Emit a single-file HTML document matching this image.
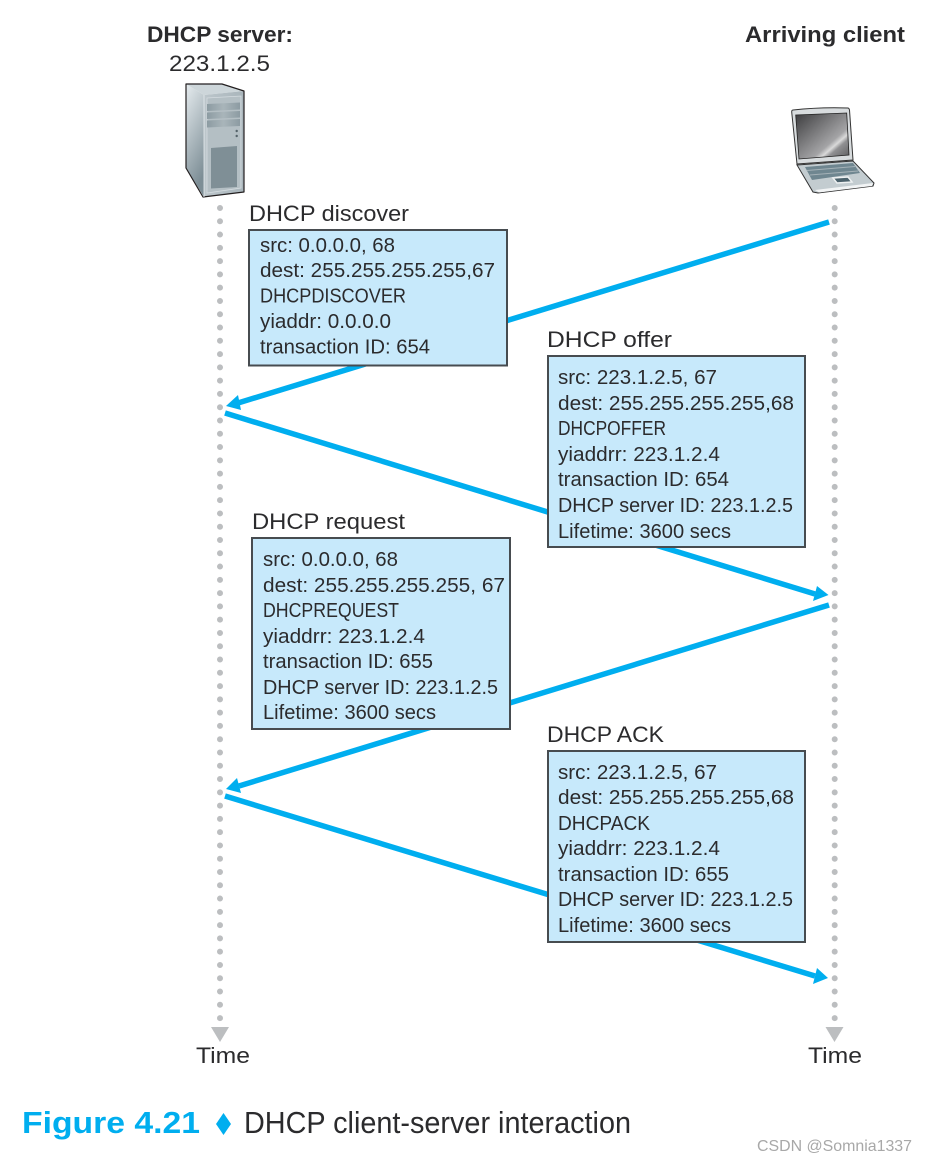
<!DOCTYPE html>
<html>
<head>
<meta charset="utf-8">
<style>
html,body{margin:0;padding:0;background:#fff;width:925px;height:1161px;overflow:hidden}
svg{display:block}
text{font-family:"Liberation Sans",sans-serif;fill:#2b2b2d;font-size:20px}
.h{font-size:22.5px}
.b{font-weight:bold;font-size:22.5px}
</style>
</head>
<body>
<svg width="925" height="1161" viewBox="0 0 925 1161" xmlns="http://www.w3.org/2000/svg">
<defs>
<linearGradient id="sf" x1="0" y1="0" x2="0.3" y2="1"><stop offset="0" stop-color="#e6ecef"/><stop offset="1" stop-color="#7d8e96"/></linearGradient>
<linearGradient id="sb" x1="0" y1="0" x2="1" y2="0"><stop offset="0" stop-color="#bcc6cb"/><stop offset="1" stop-color="#a9b5bb"/></linearGradient>
<linearGradient id="bay" x1="0" y1="0" x2="1" y2="0"><stop offset="0" stop-color="#8c9ba2"/><stop offset=".5" stop-color="#a9b5ba"/><stop offset="1" stop-color="#8c9ba2"/></linearGradient>
<linearGradient id="scr" x1="0" y1="0" x2="1" y2="1"><stop offset="0" stop-color="#3c3c3e"/><stop offset=".65" stop-color="#a4a4a6"/><stop offset=".72" stop-color="#dadada"/><stop offset=".78" stop-color="#909092"/><stop offset="1" stop-color="#5a5a5c"/></linearGradient>
<linearGradient id="lb" x1="0" y1="0" x2="0" y2="1"><stop offset="0" stop-color="#8d9ca3"/><stop offset="1" stop-color="#d6dcdf"/></linearGradient>
</defs>

<!-- lifelines -->
<g stroke="#bcbec0" stroke-width="6" stroke-linecap="round" stroke-dasharray="0 13.28" fill="none">
<line x1="220" y1="208" x2="220" y2="1022"/>
<line x1="834.700" y1="208" x2="834.700" y2="1022"/>
</g>
<polygon points="211,1027 229,1027 220,1042" fill="#bcbec0"/>
<polygon points="825.500,1027 843.500,1027 834.500,1042" fill="#bcbec0"/>

<!-- arrows -->
<g stroke="#00aeef" stroke-width="5.500" fill="none">
<line x1="829" y1="222" x2="238" y2="403"/>
<line x1="225" y1="413" x2="815" y2="594"/>
<line x1="829" y1="605" x2="239" y2="786"/>
<line x1="225" y1="796" x2="815" y2="976"/>
</g>
<g fill="#00aeef">
<polygon points="226,406 238,395 241,410"/>
<polygon points="828.500,595 817,586 813,601"/>
<polygon points="226,789 237,778 241,793"/>
<polygon points="828,978 817,968 813,984"/>
</g>

<!-- boxes -->
<g fill="#c7e9fb" stroke="#474c50" stroke-width="2">
<rect x="249" y="230" width="258" height="135.500"/>
<rect x="548" y="356" width="257" height="191"/>
<rect x="252" y="538" width="258" height="191"/>
<rect x="548" y="751" width="257" height="191"/>
</g>

<!-- headers -->
<text class="b" x="147" y="42" textLength="146" lengthAdjust="spacingAndGlyphs">DHCP server:</text>
<text class="h" x="169" y="71" textLength="101" lengthAdjust="spacingAndGlyphs">223.1.2.5</text>
<text class="b" x="745" y="42" textLength="160" lengthAdjust="spacingAndGlyphs">Arriving client</text>

<!-- box 1 -->
<text class="h" x="249" y="221" textLength="160" lengthAdjust="spacingAndGlyphs">DHCP discover</text>
<text x="260" y="252" textLength="135" lengthAdjust="spacingAndGlyphs">src: 0.0.0.0, 68</text>
<text x="260" y="277" textLength="235" lengthAdjust="spacingAndGlyphs">dest: 255.255.255.255,67</text>
<text x="260" y="302.500" textLength="146" lengthAdjust="spacingAndGlyphs">DHCPDISCOVER</text>
<text x="260" y="328" textLength="131" lengthAdjust="spacingAndGlyphs">yiaddr: 0.0.0.0</text>
<text x="260" y="353.500" textLength="170" lengthAdjust="spacingAndGlyphs">transaction ID: 654</text>

<!-- box 2 -->
<text class="h" x="547" y="347" textLength="125" lengthAdjust="spacingAndGlyphs">DHCP offer</text>
<text x="558" y="384" textLength="159" lengthAdjust="spacingAndGlyphs">src: 223.1.2.5, 67</text>
<text x="558" y="410" textLength="236" lengthAdjust="spacingAndGlyphs">dest: 255.255.255.255,68</text>
<text x="558" y="435" textLength="108" lengthAdjust="spacingAndGlyphs">DHCPOFFER</text>
<text x="558" y="461" textLength="162" lengthAdjust="spacingAndGlyphs">yiaddrr: 223.1.2.4</text>
<text x="558" y="486" textLength="171" lengthAdjust="spacingAndGlyphs">transaction ID: 654</text>
<text x="558" y="512" textLength="235" lengthAdjust="spacingAndGlyphs">DHCP server ID: 223.1.2.5</text>
<text x="558" y="538" textLength="173" lengthAdjust="spacingAndGlyphs">Lifetime: 3600 secs</text>

<!-- box 3 -->
<text class="h" x="252" y="529" textLength="153" lengthAdjust="spacingAndGlyphs">DHCP request</text>
<text x="263" y="566" textLength="135" lengthAdjust="spacingAndGlyphs">src: 0.0.0.0, 68</text>
<text x="263" y="592" textLength="242" lengthAdjust="spacingAndGlyphs">dest: 255.255.255.255, 67</text>
<text x="263" y="617" textLength="136" lengthAdjust="spacingAndGlyphs">DHCPREQUEST</text>
<text x="263" y="643" textLength="162" lengthAdjust="spacingAndGlyphs">yiaddrr: 223.1.2.4</text>
<text x="263" y="668" textLength="170" lengthAdjust="spacingAndGlyphs">transaction ID: 655</text>
<text x="263" y="694" textLength="235" lengthAdjust="spacingAndGlyphs">DHCP server ID: 223.1.2.5</text>
<text x="263" y="719" textLength="173" lengthAdjust="spacingAndGlyphs">Lifetime: 3600 secs</text>

<!-- box 4 -->
<text class="h" x="547" y="742" textLength="117" lengthAdjust="spacingAndGlyphs">DHCP ACK</text>
<text x="558" y="779" textLength="159" lengthAdjust="spacingAndGlyphs">src: 223.1.2.5, 67</text>
<text x="558" y="804" textLength="236" lengthAdjust="spacingAndGlyphs">dest: 255.255.255.255,68</text>
<text x="558" y="830" textLength="92" lengthAdjust="spacingAndGlyphs">DHCPACK</text>
<text x="558" y="855" textLength="162" lengthAdjust="spacingAndGlyphs">yiaddrr: 223.1.2.4</text>
<text x="558" y="881" textLength="171" lengthAdjust="spacingAndGlyphs">transaction ID: 655</text>
<text x="558" y="906" textLength="235" lengthAdjust="spacingAndGlyphs">DHCP server ID: 223.1.2.5</text>
<text x="558" y="932" textLength="173" lengthAdjust="spacingAndGlyphs">Lifetime: 3600 secs</text>

<!-- time -->
<text class="h" x="196" y="1063" textLength="54" lengthAdjust="spacingAndGlyphs">Time</text>
<text class="h" x="808" y="1063" textLength="54" lengthAdjust="spacingAndGlyphs">Time</text>

<!-- caption -->
<text x="22" y="1133" font-weight="bold" style="font-size:31px;fill:#00aeef" textLength="178" lengthAdjust="spacingAndGlyphs">Figure 4.21</text>
<polygon points="223.500,1113 231,1124 223.500,1135 216,1124" fill="#00aeef"/>
<text x="244" y="1133" style="font-size:31px" textLength="387" lengthAdjust="spacingAndGlyphs">DHCP client-server interaction</text>
<text x="757" y="1151" style="font-size:16px;fill:#a8a8a8" textLength="155" lengthAdjust="spacingAndGlyphs">CSDN @Somnia1337</text>

<!-- server -->
<polygon points="186,84 204,95 204,197 186,168" fill="url(#sf)"/>
<polygon points="186,84 222,84 244,91 204,95" fill="#cdd6da"/>
<polygon points="204,95 244,91 244,192 204,197" fill="url(#sb)"/>
<polygon points="186,84 222,84 244,91 244,192 203,197 186,168" fill="none" stroke="#231f20" stroke-width="1.200" stroke-linejoin="round"/>
<line x1="204" y1="95" x2="204" y2="197" stroke="#e8edef" stroke-width=".8"/>
<polygon points="207,98 241,96 241,188 207,193" fill="#b4bfc4" stroke="#d5dce0" stroke-width=".8"/>
<polygon points="207,104 240,102.500 240,109.500 207,111" fill="url(#bay)"/>
<polygon points="207,112.500 240,111 240,117.500 207,119" fill="url(#bay)"/>
<polygon points="207,120.500 240,119 240,126 207,127.500" fill="url(#bay)"/>
<polygon points="211,148 237,146 237,187 211,188.500" fill="#7f8f96"/>
<circle cx="236.700" cy="131" r="1.200" fill="#55636a"/>
<circle cx="236.700" cy="136" r="1.200" fill="#55636a"/>

<!-- laptop -->
<path d="M793,110 Q820,107 848,108 Q849,108 849.500,110 L853,160 L797,164 L791.700,112 Q791.700,110 793,110Z" fill="#d8dcde" stroke="#333" stroke-width="1"/>
<polygon points="795.700,115 846.700,113 849,155 799,159" fill="url(#scr)" stroke="#222" stroke-width=".8"/>
<polygon points="797,165 853,161 874,183 873,186 818,193 813,192" fill="#c3ccd0" stroke="#333" stroke-width="1"/>
<polygon points="805,167 853,163 860,173 812,180" fill="#6f8690"/>
<line x1="807" y1="170.500" x2="855" y2="166.500" stroke="#a4b1b7" stroke-width="1"/>
<line x1="810" y1="175" x2="858" y2="171" stroke="#a4b1b7" stroke-width="1"/>
<polygon points="833,178 848,177 852,182 837,183" fill="#4c626c" stroke="#eef1f2" stroke-width="1.500"/>
<polygon points="815,190 873,183 872,186 819,192.500" fill="#f2f4f5"/>
</svg>
</body>
</html>
